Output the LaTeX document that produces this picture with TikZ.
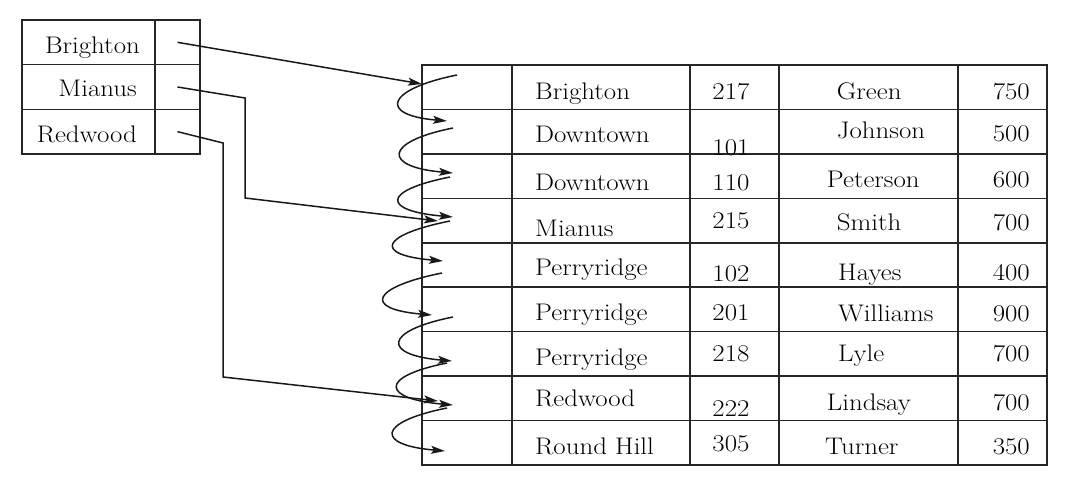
\documentclass[tikz,border=0pt]{standalone}
\usepackage{graphicx}
\usetikzlibrary{arrows.meta,calc}
\newcommand{\wide}[1]{\scalebox{1.12}[1]{#1}}
\begin{document}
\begin{tikzpicture}[x=1pt,y=-1pt,
  cell/.style={draw=black!85, line width=1.6pt, minimum height=44.44pt, inner sep=0pt, outer sep=0pt},
  txt/.style={font=\fontsize{24}{28}\selectfont, inner sep=0pt, text=black},
  link/.style={line width=1.5pt, draw=black!90, -{Stealth[length=14pt,width=8pt,inset=3pt]}},
  chain/.style={line width=1.5pt, draw=black!90, -{Stealth[length=14pt,width=8pt,inset=3pt]}}]
\useasboundingbox (0,0) rectangle (1080,478);

% ---------- index table ----------
\foreach \i/\y in {1/42.33,2/87,3/131.67}{
  \node[cell, minimum width=133pt, minimum height=44.67pt] (lk\i) at (88.5,\y) {};
  \node[cell, minimum width=45pt, minimum height=44.67pt] (lp\i) at (177.5,\y) {};
}
\node[txt, anchor=base east] (ik1) at (140,54) {\wide{Brighton}};
\node[txt, anchor=base east] (ik2) at (137,96.5) {\wide{Mianus}};
\node[txt, anchor=base east] (ik3) at (137,142.5) {\wide{Redwood}};

% ---------- data table ----------
\foreach \i in {1,...,9}{
  \pgfmathsetmacro\yc{65+(\i-0.5)*44.44}
  \foreach \c/\xc/\w in {1/467/90,2/601/178,3/734.5/89,4/868.35/178.7,5/1002.2/89}{
    \node[cell, minimum width=\w pt] (t\i-\c) at (\xc,\yc) {};
  }
}
% column 1: branch
\foreach \i/\y/\s in {1/100/Brighton,2/143/Downtown,3/190.7/Downtown,4/237/Mianus,5/275.5/Perryridge,6/320.7/Perryridge,7/365.7/Perryridge,8/407/Redwood,9/454/Round Hill}{
  \node[txt, anchor=base west] (b\i) at (535,\y) {\wide{\s}};
}
% column 2: account number
\foreach \i/\y/\s in {1/100/217,2/155.5/101,3/190.7/110,4/229/215,5/281.5/102,6/320.7/201,7/362/218,8/417/222,9/452/305}{
  \node[txt, anchor=base] (n\i) at (731,\y) {\wide{\s}};
}
% column 3: name
\foreach \i/\x/\y/\s in {1/836.7/100/Green,2/836.7/138.5/Johnson,3/826.7/188/Peterson,4/836.7/230.7/Smith,5/838/280.7/Hayes,6/838/322/Williams,7/838/362/Lyle,8/826.7/410.7/Lindsay,9/825/454/Turner}{
  \node[txt, anchor=base west] (c\i) at (\x,\y) {\wide{\s}};
}
% column 4: balance
\foreach \i/\y/\s in {1/100/750,2/141.5/500,3/188/600,4/230.7/700,5/280.7/400,6/322/900,7/362/700,8/410.7/700,9/454/350}{
  \node[txt, anchor=base east] (v\i) at (1030,\y) {\wide{\s}};
}

% ---------- chain pointers ----------
\foreach \i/\sx/\sy/\ex/\ey in {1/457/75/447/121, 2/453/128/453/173, 3/450/177/453/217, 4/450/221/443/261,
  5/442/273/432/315, 6/453/317/452/361, 7/447/363/453/405, 8/447/408/445/451}{
  \coordinate (s\i) at (\sx,\sy);
  \coordinate (e\i) at (\ex,\ey);
  \draw[chain] (s\i) .. controls ($(s\i)+(-70,14)$) and ($(e\i)+(-70,-6)$) .. (e\i);
}

% ---------- index pointers ----------
\coordinate (pb) at (422,84);
\coordinate (m1) at (245,98);
\coordinate (m2) at (245,198);
\coordinate (pm) at (438,221);
\coordinate (w1) at (223,143);
\coordinate (w2) at (223,377);
\coordinate (pw) at (438,401);
\draw[link] (lp1.center) -- (pb);
\draw[link] (lp2.center) -- (m1) -- (m2) -- (pm);
\draw[link] (lp3.center) -- (w1) -- (w2) -- (pw);
\end{tikzpicture}
\end{document}
